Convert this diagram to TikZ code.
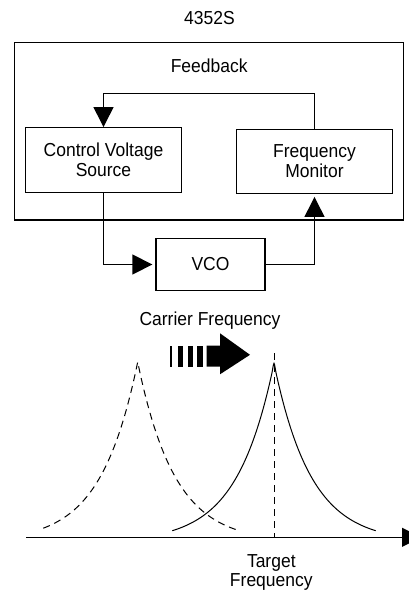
\documentclass[tikz,border=0pt]{standalone}
\usepackage{fontspec}
\setmainfont[FakeStretch=0.93]{Liberation Sans}
\usetikzlibrary{arrows.meta}
\begin{document}
\begin{tikzpicture}[x=1pt,y=-1pt,
  every node/.style={font=\fontsize{18.8}{20}\selectfont, inner sep=0pt},
  box/.style={draw, line width=1.3pt, align=center},
  conn/.style={line width=1.3pt},
  tip/.style={-{Triangle[length=20pt,width=20pt]}},
  dashcurve/.style={line width=1pt, dash pattern=on 7pt off 5pt},
  solidcurve/.style={line width=1pt}
]
\useasboundingbox (0,0) rectangle (409,592);

% titles
\node[anchor=base] (title) at (209.5,24.3) {4352S};
\node[draw, line width=1.3pt, minimum width=388.6pt, minimum height=177.7pt] (outer) at (209,131.2) {};
\node[anchor=base] (fbl) at (209.2,72.7) {Feedback};

% boxes
\node[box, minimum width=156pt, minimum height=65pt] (cvs) at (103.5,160.2) {Control Voltage\\Source};
\node[box, minimum width=155.6pt, minimum height=64pt] (fm) at (314.5,161.3) {Frequency\\Monitor};
\node[box, minimum width=109pt, minimum height=52.4pt] (vco) at (210.5,264.5) {VCO};

% connectors
\draw[conn, tip] (fm.north) -- ++(0,-35.3) -| (cvs.north);
\draw[conn, tip, shorten >=3pt] (cvs.south) |- (vco.west);
\draw[conn, tip, shorten >=3pt] (vco.east) -| (fm.south);

% carrier frequency label and big arrow
\node[anchor=base] (cf) at (210,325) {Carrier Frequency};
\fill (170,345.5) rectangle (172,366.5);
\fill (178.3,345.5) rectangle (182.7,366.5);
\fill (188.3,345.5) rectangle (193.3,366.5);
\fill (197.3,345.5) rectangle (202.7,366.5);
\fill (206.7,345.5) -- (220,345.5) -- (220,333.3) -- (250,354.8) -- (220,374.3) -- (220,366.5) -- (206.7,366.5) -- cycle;

% axis
\coordinate (axs) at (26,537.3);
\coordinate (axe) at (421,537.3);
\draw[conn, -{Triangle[length=19pt,width=19pt]}] (axs) -- (axe);

% target vertical dashed line
\coordinate (tgtop) at (274,353);
\coordinate (tgbot) at (274,537.3);
\draw[dashcurve] (tgtop) -- (tgbot);

% solid peak
\draw[solidcurve] plot[domain=-101.7:101.7, samples=101, smooth]
  ({274+\x},{363.3+167.4*(1-exp(-abs(\x)/37))/(1-exp(-101.7/37))});

% dashed peak
\draw[dashcurve] plot[domain=-94.4:0, samples=50, smooth]
  ({137.7+\x},{362+168.7*(1-exp(-abs(\x)/37))/(1-exp(-101.6/37))})
  -- plot[domain=0:101.6, samples=50, smooth]
  ({137.7+\x},{362+168.7*(1-exp(-abs(\x)/37))/(1-exp(-101.6/37))});

% target frequency label
\node[anchor=base] (tl1) at (271.3,567.3) {Target};
\node[anchor=base] (tl2) at (271.3,586.7) {Frequency};
\end{tikzpicture}
\end{document}
